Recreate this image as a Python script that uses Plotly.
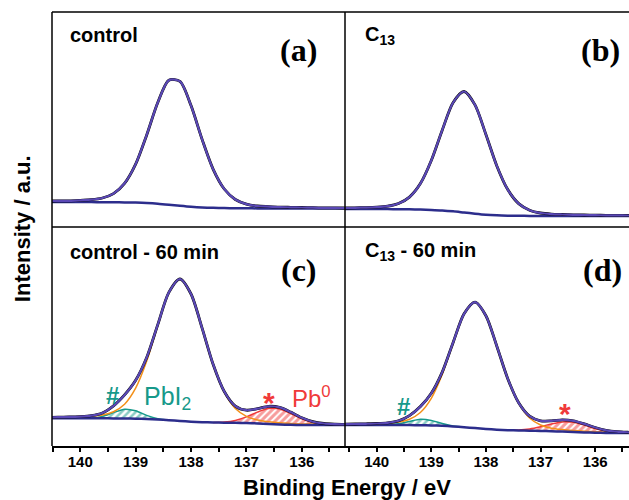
import plotly.graph_objects as go
from plotly.subplots import make_subplots

# ---------------- data (Pb 4f region) ----------------
energy = [140.6, 140.4, 140.2, 140.0, 139.8, 139.6, 139.4, 139.2, 139.0, 138.8,
          138.6, 138.4, 138.2, 138.0, 137.8, 137.6, 137.4, 137.2, 137.0, 136.8,
          136.6, 136.4, 136.2, 136.0, 135.8, 135.6, 135.4, 135.2]

# (a) control
a_env = [25.9, 26.1, 26.2, 26.7, 27.3, 29.0, 33.4, 43.7, 62.9, 92.1, 124.5, 146.8, 145.7, 121.4,
         87.6, 57.7, 38.0, 27.5, 22.9, 21.0, 20.4, 19.9, 19.7, 19.5, 19.3, 19.1, 19.1, 19.0]
a_bg = [24.9, 24.9, 24.9, 24.9, 24.9, 24.8, 24.7, 24.6, 24.4, 24.0, 23.3, 22.3, 21.2, 20.2,
        19.5, 19.2, 18.9, 18.8, 18.7, 18.6, 18.6, 18.55, 18.5, 18.5, 18.5, 18.5, 18.5, 18.5]

# (b) C13
b_env = [19.0, 19.2, 19.4, 19.8, 20.8, 23.5, 29.9, 43.4, 66.5, 96.8, 124.5, 135.5, 122.1, 92.5,
         61.1, 37.4, 23.4, 16.8, 14.0, 12.9, 12.5, 12.2, 12.0, 11.8, 11.7, 11.6, 11.5, 11.5]
b_bg = [18.0, 18.0, 18.0, 17.9, 17.9, 17.8, 17.65, 17.4, 17.1, 16.6, 15.7, 14.5, 13.3, 12.3,
        11.7, 11.35, 11.2, 11.1, 11.05, 11.0, 11.0, 11.0, 11.0, 11.0, 11.0, 11.0, 11.0, 11.0]

# (c) control - 60 min
c_env = [30.6, 30.8, 31.1, 31.4, 32.3, 35.0, 42.1, 53.1, 67.7, 90.5, 123.4, 155.6, 169.0, 154.0,
         119.9, 83.55, 56.5, 41.9, 37.8, 39.3, 41.7, 40.6, 35.9, 30.2, 26.3, 24.5, 23.85, 23.6]
c_main = [30.6, 30.8, 31.1, 31.4, 32.0, 33.1, 36.3, 43.8, 59.8, 86.9, 122.6, 155.5, 169.0, 154.0,
          119.9, 83.4, 55.8, 39.5, 31.7, 28.0, 26.3, 25.2, 24.6, 24.1, 23.9, 23.8, 23.7, 23.6]
c_bg = [29.7, 29.7, 29.7, 29.7, 29.7, 29.7, 29.6, 29.5, 29.3, 29.0, 28.5, 27.8, 27.0, 26.3,
        25.8, 25.5, 25.3, 25.2, 25.0, 24.6, 24.0, 23.5, 23.2, 23.0, 23.0, 23.0, 23.0, 23.0]
c_pbi2 = [29.7, 30.0, 31.6, 35.4, 38.8, 37.2, 32.6, 29.3, 27.9]            # energy[3:12]
c_pb0 = [25.6, 26.0, 27.6, 31.1, 35.9, 39.4, 38.9, 34.5, 29.1, 25.4, 23.7, 23.15, 23.0]  # energy[15:28]

# (d) C13 - 60 min
d_env = [23.8, 24.0, 24.2, 24.5, 25.2, 27.2, 32.4, 41.4, 54.7, 75.9, 105.6, 134.2, 145.9, 132.3,
         101.8, 69.35, 45.2, 31.8, 27.2, 27.1, 28.1, 27.2, 24.1, 20.5, 17.7, 16.3, 15.75, 15.5]
d_main = [23.8, 24.0, 24.2, 24.5, 25.0, 26.0, 28.8, 35.5, 49.7, 73.6, 105.1, 134.1, 145.9, 132.3,
          101.8, 69.2, 44.6, 30.0, 23.0, 19.8, 18.4, 17.5, 16.8, 16.3, 15.9, 15.7, 15.6, 15.5]
d_bg = [23.0, 23.0, 23.0, 23.0, 23.0, 23.0, 22.9, 22.8, 22.6, 22.2, 21.6, 20.8, 19.9, 19.0,
        18.3, 17.8, 17.5, 17.3, 17.1, 16.8, 16.4, 16.0, 15.6, 15.3, 15.1, 15.0, 15.0, 15.0]
d_pbi2 = [23.0, 23.2, 24.2, 26.5, 28.7, 27.6, 24.5, 22.1, 20.9]
d_pb0 = [17.95, 18.1, 19.1, 21.3, 24.1, 26.1, 25.7, 22.9, 19.5, 16.9, 15.6, 15.15, 15.0]

PBI2_SLICE = slice(3, 12)
PB0_SLICE = slice(15, 28)

# ticks every 0.5 eV, labels on whole eV
tick_vals = [140.5, 140, 139.5, 139, 138.5, 138, 137.5, 137, 136.5, 136, 135.5]
tick_text = ["", "140", "", "139", "", "138", "", "137", "", "136", ""]

# ---------------- styles ----------------
PURPLE = "#5a48b5"
NAVY = "#2c2d8c"
ORANGE = "#f39019"
TEAL = "#16998a"
RED = "#f03a3a"
SANS = "Liberation Sans, Arial, sans-serif"
SERIF = "Liberation Serif, Times New Roman, serif"

fig = make_subplots(rows=2, cols=2, horizontal_spacing=0, vertical_spacing=0)


def spl(x, y, color, width, row, col, **kw):
    fig.add_trace(go.Scatter(x=x, y=y, mode="lines",
                             line=dict(color=color, width=width, shape="spline", smoothing=0.8),
                             showlegend=False, hoverinfo="skip", **kw), row=row, col=col)


def hatched(bg, comp, sl, color, solidity, row, col):
    xs = energy[sl]
    spl(xs, bg[sl], "rgba(0,0,0,0)", 0.5, row, col)
    spl(xs, comp, color, 1.5, row, col, fill="tonexty", fillcolor="white",
        fillpattern=dict(shape="/", fgcolor=color, bgcolor="white", size=5, solidity=solidity))


# top panels
for env, bg, col in [(a_env, a_bg, 1), (b_env, b_bg, 2)]:
    spl(energy, bg, NAVY, 2.5, 1, col)
    spl(energy, env, "black", 2.8, 1, col)
    spl(energy, env, PURPLE, 2.2, 1, col)

# bottom panels
for env, main, bg, pbi2, pb0, col in [
        (c_env, c_main, c_bg, c_pbi2, c_pb0, 1),
        (d_env, d_main, d_bg, d_pbi2, d_pb0, 2)]:
    hatched(bg, pbi2, PBI2_SLICE, TEAL, 0.5, 2, col)
    hatched(bg, pb0, PB0_SLICE, RED, 0.6, 2, col)
    spl(energy, main, ORANGE, 1.5, 2, col)
    spl(energy, bg, NAVY, 2.5, 2, col)
    spl(energy, env, "black", 2.8, 2, col)
    spl(energy, env, PURPLE, 2.2, 2, col)

# ---------------- axes ----------------
XL = [0, 0.5078]
XR = [0.5078, 1]
YT = [0.5046, 1]
YB = [0, 0.5046]
noax = dict(showgrid=False, zeroline=False, showticklabels=False, ticks="", showline=False)
botx = dict(showgrid=False, zeroline=False, showline=True, linecolor="black", linewidth=1.5,
            ticks="outside", ticklen=4, tickwidth=1.5, tickcolor="black",
            tickmode="array", tickvals=tick_vals, ticktext=tick_text,
            ticklabelstandoff=-3,
            tickfont=dict(family=SANS, size=15, color="black", weight="bold"))
fig.update_layout(
    xaxis=dict(domain=XL, range=[140.51, 135.22], **noax),
    xaxis2=dict(domain=XR, range=[140.58, 135.38], **noax),
    xaxis3=dict(domain=XL, range=[140.51, 135.22], **botx),
    xaxis4=dict(domain=XR, range=[140.58, 135.38], **botx),
    yaxis=dict(domain=YT, range=[0, 215], **noax),
    yaxis2=dict(domain=YT, range=[0, 215], **noax),
    yaxis3=dict(domain=YB, range=[2, 221], **noax),
    yaxis4=dict(domain=YB, range=[2, 221], **noax),
)

# frame lines
frame = [
    dict(x0=0, x1=0, y0=0, y1=1),
    dict(x0=0, x1=1, y0=1, y1=1),
    dict(x0=0, x1=1, y0=0.5046, y1=0.5046),
    dict(x0=0.5078, x1=0.5078, y0=0, y1=1),
]
for f in frame:
    fig.add_shape(type="line", xref="paper", yref="paper", layer="above",
                  line=dict(color="black", width=1.5), **f)

# ---------------- text ----------------
def note(text, x, y, xref, yref, size, color="black", family=SANS, weight="bold",
         xanchor="center", angle=0):
    fig.add_annotation(text=text, x=x, y=y, xref=xref, yref=yref, showarrow=False,
                       xanchor=xanchor, yanchor="middle", textangle=angle,
                       font=dict(family=family, size=size, color=color, weight=weight))

note("control", 0.0546, 0.893, "x domain", "y domain", 20, xanchor="left")
note("C<sub>13</sub>", 0.0634, 0.893, "x2 domain", "y2 domain", 20, xanchor="left")
note("control - 60 min", 0.0546, 0.886, "x3 domain", "y3 domain", 20, xanchor="left")
note("C<sub>13</sub> - 60 min", 0.0634, 0.886, "x4 domain", "y4 domain", 20, xanchor="left")

note("(a)", 0.8396, 0.823, "x domain", "y domain", 32, family=SERIF)
note("(b)", 0.901, 0.823, "x2 domain", "y2 domain", 32, family=SERIF)
note("(c)", 0.843, 0.804, "x3 domain", "y3 domain", 32, family=SERIF)
note("(d)", 0.905, 0.804, "x4 domain", "y4 domain", 32, family=SERIF)

note("#", 139.41, 53, "x3", "y3", 24, color=TEAL)
note("PbI<sub>2</sub>", 138.42, 50, "x3", "y3", 25, color=TEAL, weight="normal")
note("*", 136.59, 46, "x3", "y3", 30, color=RED)
note("Pb<sup>0</sup>", 135.82, 51, "x3", "y3", 24, color=RED, weight="normal")
note("#", 139.50, 42, "x4", "y4", 24, color=TEAL)
note("*", 136.55, 35, "x4", "y4", 30, color=RED)

note("Binding Energy / eV", 0.511, -0.0945, "paper", "paper", 22)
note("Intensity / a.u.", -0.052, 0.502, "paper", "paper", 22, angle=-90)

fig.update_layout(width=629, height=500, margin=dict(l=52, r=0, t=12, b=54),
                  paper_bgcolor="white", plot_bgcolor="white", showlegend=False)

fig.write_html("out.html")
